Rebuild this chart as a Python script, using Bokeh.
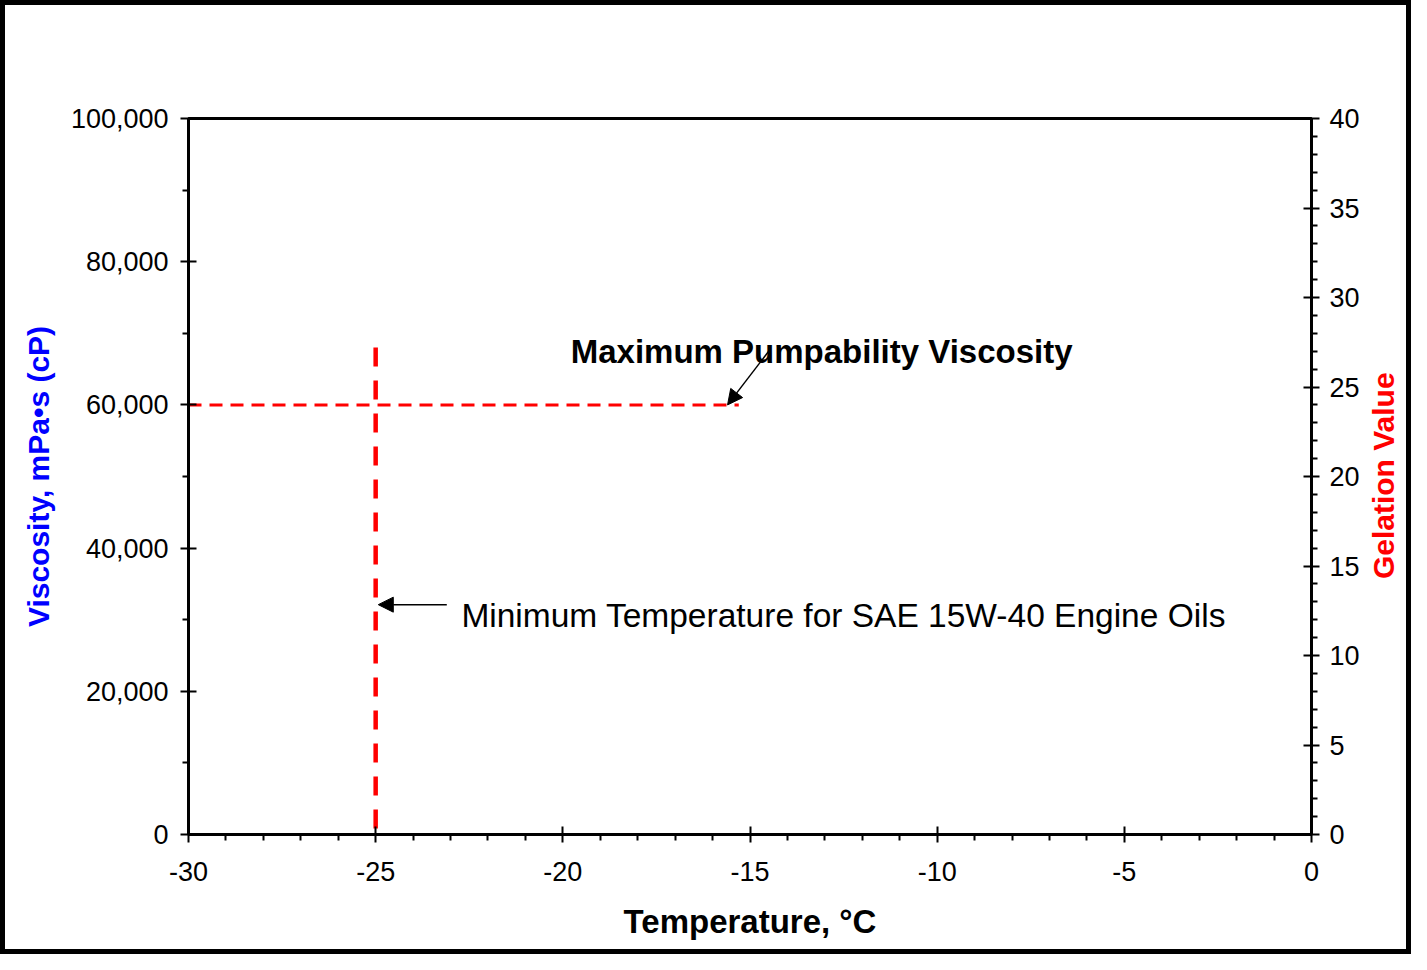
import math
from bokeh.plotting import figure
from bokeh.layouts import row
from bokeh.models import (Range1d, LinearAxis, FixedTicker, NumeralTickFormatter,
                          Arrow, NormalHead, Label)
from bokeh.embed import file_html
from bokeh.resources import INLINE

# ---------------- data ----------------
temp_ticks = [-30, -25, -20, -15, -10, -5, 0]
temp_minor = [-29, -28, -27, -26, -24, -23, -22, -21, -19, -18, -17, -16,
              -14, -13, -12, -11, -9, -8, -7, -6, -4, -3, -2, -1]
visc_ticks = [0, 20000, 40000, 60000, 80000, 100000]
visc_minor = [10000, 30000, 50000, 70000, 90000]
gel_ticks = [0, 5, 10, 15, 20, 25, 30, 35, 40]
gel_minor = [1, 2, 3, 4, 6, 7, 8, 9, 11, 12, 13, 14, 16, 17, 18, 19, 21, 22, 23, 24,
             26, 27, 28, 29, 31, 32, 33, 34, 36, 37, 38, 39]

# Maximum pumpability viscosity (horizontal dashed line)
mpv_temp = [-30, -15.3]
mpv_visc = [60000, 60000]
# Minimum temperature for SAE 15W-40 (vertical dashed line)
mint_temp = [-25, -25]
mint_visc = [68000, 0]

FONT = "Liberation Sans"
H = 944
MAIN_W = 1357
SIDE_W = 44
TOP, BOTTOM = 113, 115

p = figure(width=MAIN_W, height=H,
           x_range=Range1d(-30, 0), y_range=Range1d(0, 100000),
           output_backend="svg", toolbar_location=None,
           min_border_left=183, min_border_top=TOP,
           min_border_right=47, min_border_bottom=BOTTOM)
p.extra_y_ranges = {"gel": Range1d(0, 40)}

p.xgrid.visible = False
p.ygrid.visible = False
p.background_fill_color = "white"
p.border_fill_color = "white"
p.outline_line_color = "black"
p.outline_line_width = 3
p.outline_line_alpha = 1.0


def style_axis(ax, label_standoff, tick_standoff):
    ax.axis_line_color = "black"
    ax.axis_line_width = 3
    ax.major_tick_line_color = "black"
    ax.major_tick_line_width = 2
    ax.minor_tick_line_color = "black"
    ax.minor_tick_line_width = 2
    ax.major_tick_in = 8
    ax.major_tick_out = 8
    ax.minor_tick_in = 0
    ax.minor_tick_out = 6
    ax.major_label_text_font = FONT
    ax.major_label_text_font_size = "27px"
    ax.major_label_text_color = "black"
    ax.major_label_standoff = tick_standoff
    ax.axis_label_text_font = FONT
    ax.axis_label_text_font_style = "bold"
    ax.axis_label_standoff = label_standoff


xax = p.xaxis[0]
xax.ticker = FixedTicker(ticks=temp_ticks, minor_ticks=temp_minor)
xax.formatter = NumeralTickFormatter(format="0")
xax.axis_label = "Temperature, °C"
style_axis(xax, 19, 19)
xax.axis_label_text_font_size = "33px"
xax.axis_label_text_color = "black"

yax = p.yaxis[0]
yax.ticker = FixedTicker(ticks=visc_ticks, minor_ticks=visc_minor)
yax.formatter = NumeralTickFormatter(format="0,0")
yax.axis_label = "Viscosity, mPa•s (cP)"
style_axis(yax, 13, 12)
yax.axis_label_text_font_size = "30px"
yax.axis_label_text_color = "#0000FF"

rax = LinearAxis(y_range_name="gel",
                 ticker=FixedTicker(ticks=gel_ticks, minor_ticks=gel_minor),
                 formatter=NumeralTickFormatter(format="0"))
style_axis(rax, 6, 10)
p.add_layout(rax, "right")

# dashed reference lines
p.line(mpv_temp, mpv_visc, line_color="#FF0000", line_width=3, line_dash="13 8")
p.line(mint_temp, mint_visc, line_color="#FF0000", line_width=4.5, line_dash="19 14")

# annotations
p.add_layout(Arrow(end=NormalHead(size=15, fill_color="black", line_color="black", line_width=1),
                   x_start=-14.47, y_start=67700, x_end=-15.6, y_end=60000,
                   line_color="black", line_width=1.5))
p.add_layout(Arrow(end=NormalHead(size=15, fill_color="black", line_color="black", line_width=1),
                   x_start=-23.1, y_start=32100, x_end=-24.93, y_end=32100,
                   line_color="black", line_width=1.5))

p.add_layout(Label(x=-19.79, y=67450, text="Maximum Pumpability Viscosity",
                   text_font=FONT, text_font_size="33px", text_font_style="bold",
                   text_color="black", text_align="left", text_baseline="alphabetic"))
p.add_layout(Label(x=-22.71, y=30630, text="Minimum Temperature for SAE 15W-40 Engine Oils",
                   text_font=FONT, text_font_size="33.5px", text_font_style="normal",
                   text_color="black", text_align="left", text_baseline="alphabetic"))

# narrow side panel carrying the right-axis title, reading bottom-to-top
q = figure(width=SIDE_W, height=H, x_range=Range1d(0, SIDE_W), y_range=Range1d(0, H),
           output_backend="svg", toolbar_location=None, min_border=0)
q.axis.visible = False
q.xgrid.visible = False
q.ygrid.visible = False
q.outline_line_color = None
q.background_fill_color = "white"
q.border_fill_color = "white"
frame_mid = H - (TOP + (H - TOP - BOTTOM) / 2)
q.add_layout(Label(x=21, y=frame_mid, angle=math.pi / 2,
                   text="Gelation Value", text_font=FONT, text_font_size="30px",
                   text_font_style="bold", text_color="#FF0000",
                   text_align="center", text_baseline="middle"))

layout = row(p, q, spacing=0)
layout.styles = {"border": "5px solid black"}

open("out.html", "w").write(file_html(layout, INLINE))
